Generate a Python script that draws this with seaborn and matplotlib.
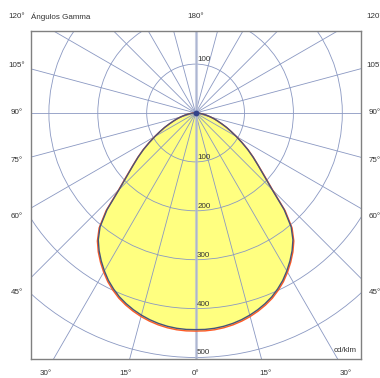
import numpy as np
import pandas as pd
import matplotlib
matplotlib.use("Agg")
import matplotlib.pyplot as plt
import seaborn as sns

# ---- data (cd/klm) ----
gamma = [0, 2.5, 5, 7.5, 10, 12.5, 15, 17.5, 20, 22.5, 25, 27.5, 30, 32.5, 35, 37.5, 40,
         42.5, 45, 47.5, 50, 52.5, 55, 57.5, 60, 62.5, 65, 67.5, 70, 72.5, 75, 77.5, 80,
         82.5, 85, 87.5, 90]
c0_c180 = [443, 443, 442, 440, 437, 433, 428, 422, 415, 407, 397, 386, 373, 359, 344, 327, 304,
           268, 221, 190, 167, 148, 130, 112, 96, 82, 70, 58, 48, 40, 32, 25, 19,
           14, 9, 6, 3]
c90_c270 = [446, 446, 445, 443, 440, 436, 431, 425, 418, 410, 400, 389, 376, 362, 347, 330, 307,
            271, 223, 192, 168, 149, 131, 113, 97, 82, 70, 58, 48, 40, 32, 25, 19,
            14, 9, 6, 3]
circle_values = [100, 200, 300, 400, 500]
top_circle_labels = [100]
grid_angles = list(range(0, 360, 15))
side_angles = [45, 60, 75, 90, 105]
bottom_angles = [-30, -15, 0, 15, 30]
title = "Ángulos Gamma"
unit = "cd/klm"

sns.set_style("white")
plt.rcParams["font.family"] = ["Liberation Sans", "DejaVu Sans"]

W, H, DPI = 380, 378, 100
fig = plt.figure(figsize=(W / DPI, H / DPI), dpi=DPI)
L, R, T, B = 30.5, 360.7, 31.3, 358.5
cx, cy = 195.6, 113.0
s = 0.489  # px per cd/klm
ax = fig.add_axes([L / W, 1 - B / H, (R - L) / W, (B - T) / H])
ax.set_xlim((L - cx) / s, (R - cx) / s)
ax.set_ylim((cy - B) / s, (cy - T) / s)
ax.set_xticks([]); ax.set_yticks([])
for sp in ax.spines.values():
    sp.set_color("#808080"); sp.set_linewidth(1.0); sp.set_zorder(10)

def px(x, y):
    return (x - cx) / s, (cy - y) / s

def plane_df(vals, name):
    g = np.deg2rad(np.array(gamma, dtype=float))
    v = np.array(vals, dtype=float)
    ang = np.concatenate([-g[::-1], g[1:]])
    r = np.concatenate([v[::-1], v[1:]])
    return pd.DataFrame({"x": r * np.sin(ang), "y": -r * np.cos(ang), "plane": name})

d0 = plane_df(c0_c180, "C0-C180")
d90 = plane_df(c90_c270, "C90-C270")

gridc = "#8a98c2"
# fill
ax.fill(d90["x"], d90["y"], color="#ffff80", lw=0, zorder=1)
ax.fill(d0["x"], d0["y"], color="#ffff80", lw=0, zorder=1)

# grid circles
for r in circle_values:
    ax.add_patch(plt.Circle((0, 0), r, fill=False, ec=gridc, lw=0.6, zorder=2))
# radial lines
for a in grid_angles:
    t = np.deg2rad(a)
    ax.plot([0, 1200 * np.sin(t)], [0, -1200 * np.cos(t)], color=gridc, lw=0.6, zorder=2)
ax.axvline(0, color="#b4bcd6", lw=2.2, alpha=0.7, zorder=2.5)

# curves
sns.lineplot(data=d90, x="x", y="y", sort=False, estimator=None, color="#ff5a28",
             lw=1.0, ax=ax, zorder=3)
sns.lineplot(data=d0, x="x", y="y", sort=False, estimator=None, color="#46537a",
             lw=1.0, ax=ax, zorder=3.1)
ax.set_xlabel(""); ax.set_ylabel("")
ax.plot([0], [0], "o", ms=3.2, color="#33438a", zorder=4)

fs = 5.8
tc = "#333333"
# circle labels
for v in circle_values:
    ax.text(1.5 / s, -v + 1.0 / s, str(v), fontsize=fs, color=tc, ha="left", va="bottom", zorder=5)
for v in top_circle_labels:
    ax.text(1.5 / s, v + 1.0 / s, str(v), fontsize=fs, color=tc, ha="left", va="bottom", zorder=5)

# side angle labels
xl, _ = px(16.5, 0)
for a in side_angles:
    yy = -abs(xl) / np.tan(np.deg2rad(a))
    ax.text(xl, yy, f"{a}°", fontsize=fs, color=tc, ha="center", va="center", clip_on=False)
    ax.text(-xl, yy, f"{a}°", fontsize=fs, color=tc, ha="center", va="center", clip_on=False)
# bottom labels
_, yb = px(0, 373)
for a in bottom_angles:
    xx = abs(yb) * np.tan(np.deg2rad(a))
    ax.text(xx, yb, f"{abs(a)}°", fontsize=fs, color=tc, ha="center", va="center", clip_on=False)
# top row
_, yt = px(0, 16.5)
ax.text(xl, yt, "120°", fontsize=fs, color=tc, ha="center", va="center", clip_on=False)
ax.text(-xl, yt, "120°", fontsize=fs, color=tc, ha="center", va="center", clip_on=False)
ax.text(0, yt, "180°", fontsize=fs, color=tc, ha="center", va="center", clip_on=False)
x0, _ = px(30.7, 0)
ax.text(x0, yt, title, fontsize=fs, color=tc, ha="left", va="center", clip_on=False)
xu, yu = px(357, 350)
ax.text(xu, yu, unit, fontsize=fs, color=tc, ha="right", va="center", zorder=5)

fig.savefig("out.png", dpi=DPI)
